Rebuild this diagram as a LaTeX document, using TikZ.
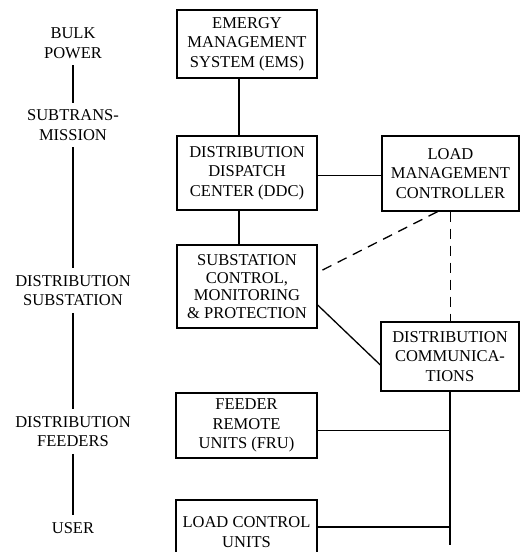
\documentclass[tikz,border=0pt]{standalone}
\usepackage{fontspec}
\setmainfont{Liberation Serif}
\usepackage{tikz}

\begin{document}
\begin{tikzpicture}[x=1pt,y=-1pt,
  box/.style={draw,rectangle,line width=1.3pt,align=center,inner sep=0pt,
    font=\fontsize{16.5}{19.5}\selectfont},
  lvl/.style={align=center,inner sep=7pt,font=\fontsize{16.5}{19.5}\selectfont},
  conn/.style={line width=1.3pt},
  dashconn/.style={line width=1.3pt,dash pattern=on 10pt off 7pt}]
\useasboundingbox (0,0) rectangle (520,552);
\clip (0,0) rectangle (520,552);
% levels on the left
\node[lvl] (bulk) at (73,43) {BULK\\POWER};
\node[lvl] (subt) at (73,125) {SUBTRANS-\\MISSION};
\node[lvl] (dsub) at (73,290.5) {DISTRIBUTION\\SUBSTATION};
\node[lvl] (dfeed) at (73,431.5) {DISTRIBUTION\\FEEDERS};
\node[lvl] (user) at (73,528) {USER};
\draw[conn] (bulk) -- (subt);
\draw[conn] (subt) -- (dsub);
\draw[conn] (dsub) -- (dfeed);
\draw[conn] (dfeed) -- (user);
% boxes
\node[box,minimum width=140,minimum height=68] (ems) at (247,44) {EMERGY\\MANAGEMENT\\SYSTEM (EMS)};
\node[box,minimum width=140,minimum height=74] (ddc) at (247,173) {DISTRIBUTION\\DISPATCH\\CENTER (DDC)};
\node[box,minimum width=137,minimum height=75] (lmc) at (450.5,173.5) {LOAD\\MANAGEMENT\\CONTROLLER};
\node[box,minimum width=140,minimum height=83,font=\fontsize{16.5}{17.7}\selectfont] (scmp) at (247,286.5) {SUBSTATION\\CONTROL,\\MONITORING\\\& PROTECTION};
\node[box,minimum width=138,minimum height=69] (comm) at (450,356.5) {DISTRIBUTION\\COMMUNICA-\\TIONS};
\node[box,minimum width=141,minimum height=65] (fru) at (246.5,425.5) {FEEDER\\REMOTE\\UNITS (FRU)};
\node[box,minimum width=141,minimum height=64] (lcu) at (246.5,532) {LOAD CONTROL\\UNITS};
\coordinate (busend) at (450,545);
% links
\draw[conn] ([xshift=-8pt]ems.south) -- ([xshift=-8pt]ddc.north);
\draw[conn] ([xshift=-8pt]ddc.south) -- ([xshift=-8pt]scmp.north);
\draw[conn] ([yshift=-2.5pt]ddc.east) -- ([yshift=-2.5pt]ddc.east -| lmc.west);
\draw[dashconn] ([xshift=-13pt]lmc.south) -- ([yshift=14pt]scmp.east);
\draw[dashconn] (lmc.south) -- (lmc.south |- comm.north);
\draw[conn] ([yshift=-18.5pt]scmp.east) -- ([yshift=-8.5pt]comm.west);
\draw[conn] (comm.south) -- (busend);
\draw[conn] ([yshift=-5pt]fru.east) -- ([yshift=-5pt]fru.east -| busend);
\draw[conn] ([yshift=5pt]lcu.east) -- ([yshift=5pt]lcu.east -| busend);
\end{tikzpicture}
\end{document}
